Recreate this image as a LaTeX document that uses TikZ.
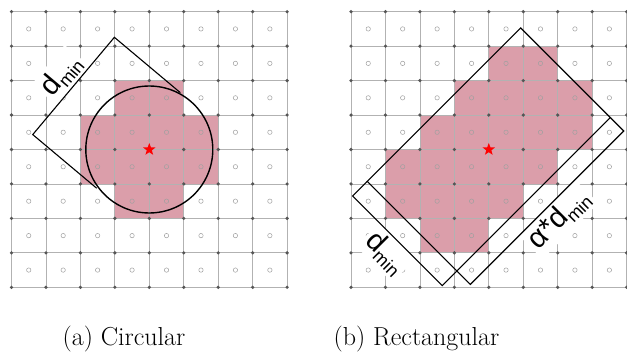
\documentclass[tikz,border=0pt]{standalone}
\usepackage{fontspec}
\newfontfamily\labfont{Liberation Sans}
\usetikzlibrary{shapes.geometric,calc}
\definecolor{pinkfill}{RGB}{219,158,170}
\definecolor{gridcol}{RGB}{178,178,178}
\definecolor{dotcol}{RGB}{85,85,85}
\definecolor{cellcol}{RGB}{160,160,160}
\tikzset{
  gridlines/.style={gridcol, line width=0.8pt},
  griddot/.style={fill=dotcol},
  cellmark/.style={cellcol, line width=0.5pt},
  dimline/.style={black, line width=1.1pt},
  bigcircle/.style={black, line width=1.4pt},
  starmark/.style={star, star points=5, star point ratio=2.4, fill=red, draw=none, inner sep=0pt, minimum size=13pt},
  dimlabel/.style={fill=white, inner sep=3pt, font=\labfont},
  caption/.style={anchor=base, font=\fontsize{26}{30}\selectfont}
}
\newcommand{\dlab}{\fontsize{29}{29}\selectfont d\raisebox{-6pt}{\fontsize{18}{18}\selectfont min}}
\newcommand{\adlab}{\fontsize{29}{29}\selectfont α*d\raisebox{-6pt}{\fontsize{18}{18}\selectfont min}}
\newcommand{\gridpanel}{%
  \draw[gridlines] (0,0) grid[step=1] (8,8);
  \foreach \i in {0,...,8} { \foreach \j in {0,...,8} { \fill[griddot] (\i,\j) circle (1.8pt); } }
  \foreach \i in {0,...,7} { \foreach \j in {0,...,7} { \draw[cellmark] (\i+0.5,\j+0.5) circle (2.2pt); } }
}
\begin{document}
\begin{tikzpicture}[x=1pt,y=1pt]
\useasboundingbox (0,0) rectangle (627,354);
\fill[white] (0,0) rectangle (627,354);

% ---------- (a) circular ----------
\begin{scope}[shift={(11.5,66.7)}, x=34.45pt, y=34.45pt]
  \fill[pinkfill] (3,2) rectangle (5,6);
  \fill[pinkfill] (2,3) rectangle (6,5);
  \gridpanel
  \coordinate (cA) at (4,4);
  \coordinate (A1) at ($(4,4)+(140:2.87)+(50:1.843)$);
  \coordinate (A2) at ($(4,4)+(140:2.87)-(50:1.843)$);
  \coordinate (A1e) at ($(A1)+(-40:2.5)$);
  \coordinate (A2e) at ($(A2)+(-40:2.42)$);
  \node[dimlabel, rotate=50, anchor=south] (labA) at ($(A1)!0.5!(A2)$) {\dlab};
  \draw[dimline] (A1e) -- (A1) -- (A2) -- (A2e);
  \draw[bigcircle] (cA) circle (1.843);
  \node[starmark] (starA) at (cA) {};
\end{scope}

% ---------- (b) rectangular ----------
\begin{scope}[shift={(351,66.7)}, x=34.45pt, y=34.45pt]
  \fill[pinkfill] (4,6) rectangle (6,7);
  \fill[pinkfill] (3,5) rectangle (7,6);
  \fill[pinkfill] (2,4) rectangle (7,5);
  \fill[pinkfill] (1,3) rectangle (6,4);
  \fill[pinkfill] (1,2) rectangle (5,3);
  \fill[pinkfill] (2,1) rectangle (4,2);
  \gridpanel
  \coordinate (cB) at (4,4);
  \begin{scope}[shift={(4,4)}, rotate=45]
    \coordinate (R1) at (-3.15,-1.84);
    \coordinate (R2) at (3.15,-1.84);
    \coordinate (R3) at (3.15,1.84);
    \coordinate (R4) at (-3.15,1.84);
    \coordinate (D1) at (-3.75,1.84);
    \coordinate (D2) at (-3.75,-1.84);
    \coordinate (E1) at (-3.15,-2.39);
    \coordinate (E2) at (3.15,-2.39);
    \node[dimlabel, rotate=-45, anchor=north] (labB) at (-3.75,0) {\dlab};
    \node[dimlabel, rotate=45, anchor=north] (labC) at (0,-2.39) {\adlab};
    \draw[dimline] (R1) -- (R2) -- (R3) -- (R4) -- cycle;
    \draw[dimline] (R4) -- (D1) -- (D2) -- (R1);
    \draw[dimline] (R1) -- (E1) -- (E2) -- (R2);
  \end{scope}
  \node[starmark] (starB) at (cB) {};
\end{scope}

% ---------- captions ----------
\node[caption] (capA) at (124,9) {(a) Circular};
\node[caption] (capB) at (416.5,9) {(b) Rectangular};
\end{tikzpicture}
\end{document}
